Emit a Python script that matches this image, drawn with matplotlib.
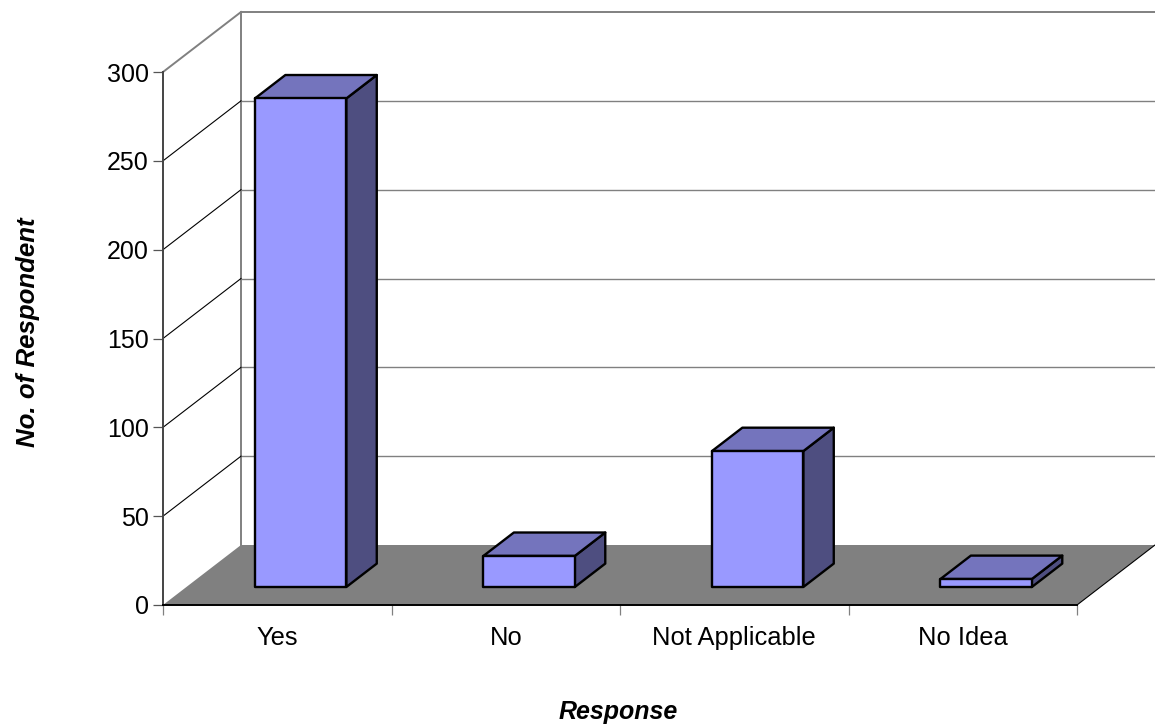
#!/usr/bin/env python
import matplotlib
matplotlib.use('Agg')
import matplotlib.pyplot as plt
from matplotlib.patches import Polygon

respuestas = ['Yes', 'No', 'Not Applicable', 'No Idea']
valores = [275, 17.5, 76.5, 4.5]
ticks_y = [0, 50, 100, 150, 200, 250, 300]

# Profundidad de la caja 3D, en unidades de los ejes
prof_x = 78 / 228.5
prof_y = 60 / (533 / 300)
ancho_barra = 0.4
frente = 0.3
fondo = 0.69

plt.rcParams['font.family'] = ['Liberation Sans', 'DejaVu Sans']

fig = plt.figure(figsize=(11.55, 7.25), dpi=100)
ax = fig.add_axes([163 / 1155, 120 / 725, 914 / 1155, 533 / 725])
ax.set_xlim(0, len(respuestas))
ax.set_ylim(0, 300)


def cara(puntos, color, lw=1.7, edge='black', z=3):
    ax.add_patch(Polygon(puntos, closed=True, facecolor=color, edgecolor=edge,
                         linewidth=lw, joinstyle='round', clip_on=False, zorder=z))


# Piso gris
n = len(respuestas)
cara([(0, 0), (n, 0), (n + prof_x, prof_y), (prof_x, prof_y)], '#808080', lw=0, edge='none', z=1)
ax.plot([n, n + prof_x], [0, prof_y], color='black', lw=0.8, clip_on=False, zorder=1.5)

# Pared del fondo y lineas de grilla
ax.plot([prof_x, prof_x], [prof_y, 300 + prof_y], color='#808080', lw=1.4, clip_on=False, zorder=1)
for t in ticks_y[1:]:
    ax.plot([prof_x, n + prof_x], [t + prof_y, t + prof_y], color='#808080',
            lw=1.4 if t == 300 else 1.0, clip_on=False, zorder=1)
    ax.plot([0, prof_x], [t, t + prof_y], color='#808080' if t == 300 else 'black',
            lw=1.4 if t == 300 else 0.8, clip_on=False, zorder=1)

# Barras: frente, tapa y costado
for i, v in enumerate(valores):
    x0 = i + 0.5 - ancho_barra / 2 + frente * prof_x
    x1 = x0 + ancho_barra
    y0 = frente * prof_y
    y1 = y0 + v
    dx = (fondo - frente) * prof_x
    dy = (fondo - frente) * prof_y
    cara([(x1, y0), (x1 + dx, y0 + dy), (x1 + dx, y1 + dy), (x1, y1)], '#4E4E80')
    cara([(x0, y1), (x1, y1), (x1 + dx, y1 + dy), (x0 + dx, y1 + dy)], '#7474BD')
    cara([(x0, y0), (x1, y0), (x1, y1), (x0, y1)], '#9999FF', z=4)

# Ejes
for lado in ['top', 'right']:
    ax.spines[lado].set_visible(False)
ax.spines['left'].set_color('#444444')
ax.spines['left'].set_linewidth(1.4)
ax.spines['bottom'].set_color('black')
ax.spines['bottom'].set_linewidth(1.4)
ax.spines['left'].set_zorder(5)
ax.spines['bottom'].set_zorder(5)
ax.patch.set_visible(False)

ax.set_yticks(ticks_y)
ax.tick_params(axis='y', length=7.2, width=0.9, color='#555555', labelsize=18, pad=3)
ax.set_xticks(range(n + 1))
ax.set_xticks([i + 0.5 for i in range(n)], minor=True)
ax.set_xticklabels([])
ax.set_xticklabels(respuestas, minor=True)
ax.tick_params(axis='x', which='major', length=7.2, width=0.9, color='#808080')
ax.tick_params(axis='x', which='minor', length=0, labelsize=18.4, pad=15)

fig.text(618.5 / 1155, 1 - 712 / 725, 'Response', ha='center', va='center',
         fontsize=18, fontweight='bold', fontstyle='italic')
fig.text(28 / 1155, 1 - 332 / 725, 'No. of Respondent', ha='center', va='center',
         rotation=90, fontsize=18.6, fontweight='bold', fontstyle='italic')

fig.savefig('out.png', dpi=100)
